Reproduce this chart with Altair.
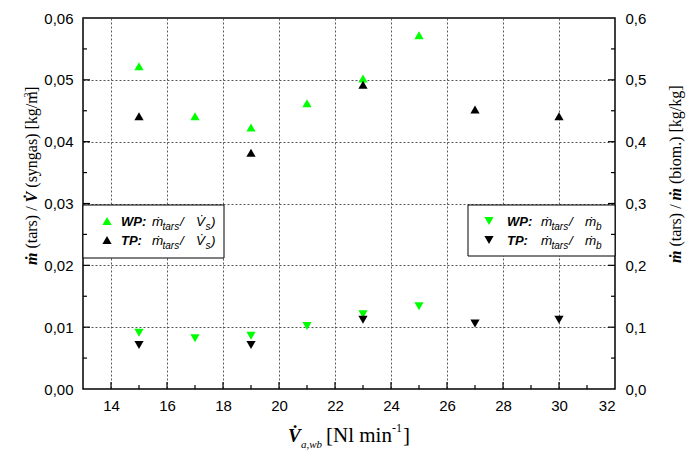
import altair as alt
import pandas as pd

# ---------------- data ----------------
x_wp_up = [15, 17, 19, 21, 23, 25]
y_wp_up = [0.0522, 0.0441, 0.0423, 0.0462, 0.0502, 0.0572]
x_tp_up = [15, 19, 23, 27, 30]
y_tp_up = [0.0441, 0.0382, 0.0492, 0.0452, 0.0441]

x_wp_dn = [15, 17, 19, 21, 23, 25]
y_wp_dn = [0.091, 0.082, 0.086, 0.102, 0.121, 0.134]
x_tp_dn = [15, 19, 23, 27, 30]
y_tp_dn = [0.071, 0.071, 0.112, 0.106, 0.112]

x_labels = [14, 16, 18, 20, 22, 24, 26, 28, 30, 32]
x_major = [14, 16, 18, 20, 22, 24, 26, 28, 30]
x_minor = [15, 17, 19, 21, 23, 25, 27, 29, 31]
yl_labels = [0.0, 0.01, 0.02, 0.03, 0.04, 0.05, 0.06]
yl_major = [0.01, 0.02, 0.03, 0.04, 0.05]
yl_minor = [0.005, 0.015, 0.025, 0.035, 0.045, 0.055]
yr_labels = [0.0, 0.1, 0.2, 0.3, 0.4, 0.5, 0.6]
yr_major = [0.1, 0.2, 0.3, 0.4, 0.5]
yr_minor = [0.05, 0.15, 0.25, 0.35, 0.45, 0.55]

GREEN = "#00FF00"
BLACK = "#000000"

# ---------------- layout ----------------
L, T = 83, 18
W, H = 532, 371
R = 686 - L - W
B = 453 - T - H

SANS = "Liberation Sans"
SERIF = "Liberation Serif"
NB = "\u00A0"

x_scale = alt.Scale(domain=[13, 32], nice=False, zero=False)
yl_scale = alt.Scale(domain=[0, 0.06], nice=False)
yr_scale = alt.Scale(domain=[0, 0.6], nice=False)

x_axis = alt.Axis(values=x_labels, title="", ticks=False, domain=False,
                  labelFont=SANS, labelFontSize=15, labelColor="black",
                  labelPadding=9, grid=True, gridColor="#444",
                  gridDash=[2, 2], gridWidth=0.9, format="d")
yl_axis = alt.Axis(values=yl_labels, title="", ticks=False, domain=False,
                   orient="left",
                   labelExpr="replace(format(datum.value, '.2f'), '.', ',')",
                   labelFont=SANS, labelFontSize=15, labelColor="black",
                   labelPadding=10, grid=True, gridColor="#444",
                   gridDash=[2, 2], gridWidth=0.9)
yr_axis = alt.Axis(values=yr_labels, title="", ticks=False, domain=False,
                   orient="right",
                   labelExpr="replace(format(datum.value, '.1f'), '.', ',')",
                   labelFont=SANS, labelFontSize=15, labelColor="black",
                   labelPadding=10, grid=False)

base = alt.Chart(pd.DataFrame({"d": [0]}))


def txt(s, ax, ay, size, font=SANS, style="normal", weight="normal",
        angle=0, align="left", baseline="alphabetic"):
    """Text placed at absolute page coordinates (converted to plot coords)."""
    return base.mark_text(text=s, font=font, fontSize=size, fontStyle=style,
                          fontWeight=weight, angle=angle, align=align,
                          baseline=baseline, color="black").encode(
        x=alt.value(ax - L), y=alt.value(ay - T))


def pts(xs, ys, shape, color, yscale, yaxis):
    df = pd.DataFrame({"x": xs, "y": ys})
    return alt.Chart(df).mark_point(shape=shape, filled=True, color=color,
                                    size=85, opacity=1, strokeWidth=0).encode(
        x=alt.X("x:Q", scale=x_scale, axis=x_axis),
        y=alt.Y("y:Q", scale=yscale, axis=yaxis))


def yticks(vals, length, yscale, yaxis, right=False):
    df = pd.DataFrame({"y": vals})
    x0 = W if right else 0
    x1 = W - length if right else length
    return alt.Chart(df).mark_rule(color="black", strokeWidth=1.2).encode(
        y=alt.Y("y:Q", scale=yscale, axis=yaxis),
        x=alt.value(x0), x2=alt.value(x1))


def xticks(vals, length):
    df = pd.DataFrame({"x": vals})
    return alt.Chart(df).mark_rule(color="black", strokeWidth=1.2).encode(
        x=alt.X("x:Q", scale=x_scale, axis=x_axis),
        y=alt.value(H), y2=alt.value(H - length))


def box(ax0, ax1, ay0, ay1):
    return base.mark_rect(fill="white", stroke="black", strokeWidth=1).encode(
        x=alt.value(ax0 - L), x2=alt.value(ax1 - L),
        y=alt.value(ay0 - T), y2=alt.value(ay1 - T))


def legmark(shape, color, ax, ay):
    return base.mark_point(shape=shape, filled=True, color=color, size=85,
                           opacity=1, strokeWidth=0).encode(
        x=alt.value(ax - L), y=alt.value(ay - T))


MDOT = "\u1E41"
VDOT = "V\u0307"

# ---------------- legends ----------------
r1, r2 = 226, 245
left_legend = [
    box(83, 224, 205, 258),
    legmark("triangle-up", GREEN, 107, 221),
    legmark("triangle-up", BLACK, 107, 240),
]
for row, lab in ((r1, "WP:"), (r2, "TP:")):
    left_legend += [
        txt(lab, 121, row, 13, style="italic", weight="bold"),
        txt(MDOT, 152, row, 13.5, style="italic"),
        txt("tars", 162.5, row + 3.5, 10, style="italic"),
        txt("/", 180, row, 13.5, style="italic"),
        txt(VDOT, 196, row, 13.5, style="italic"),
        txt("s", 205.5, row + 3.5, 10, style="italic"),
        txt(")", 211, row, 13.5, style="italic"),
    ]

right_legend = [
    box(468, 615, 205, 256),
    legmark("triangle-down", GREEN, 489, 221),
    legmark("triangle-down", BLACK, 489, 240),
]
for row, lab in ((r1, "WP:"), (r2, "TP:")):
    right_legend += [
        txt(lab, 507, row, 13, style="italic", weight="bold"),
        txt(MDOT, 541, row, 13.5, style="italic"),
        txt("tars", 551.5, row + 3.5, 10, style="italic"),
        txt("/", 569, row, 13.5, style="italic"),
        txt(MDOT, 585, row, 13.5, style="italic"),
        txt("b", 596, row + 3.5, 10, style="italic"),
    ]

# ---------------- axis titles ----------------
titles = [
    # left (rotated, reading upward)
    txt(MDOT, 37, 265, 16, font=SERIF, style="italic", weight="bold", angle=270),
    txt("(tars)" + NB + "/", 37, 248.6, 16, font=SERIF, angle=270),
    txt(VDOT, 37, 202.4, 16, font=SERIF, style="italic", weight="bold", angle=270),
    txt("(syngas)" + NB + "[kg/m", 37, 187.7, 16, font=SERIF, angle=270),
    txt("3", 31, 97.5, 10, font=SERIF, angle=270),
    txt("]", 37, 92, 16, font=SERIF, angle=270),
    # right (rotated, reading upward)
    txt(MDOT, 681, 263, 16, font=SERIF, style="italic", weight="bold", angle=270),
    txt("(tars)" + NB + "/", 681, 246.6, 16, font=SERIF, angle=270),
    txt(MDOT, 681, 200.4, 16, font=SERIF, style="italic", weight="bold", angle=270),
    txt("(biom.)" + NB + "[kg/kg]", 681, 184, 16, font=SERIF, angle=270),
    # bottom
    txt(VDOT, 288, 442, 19, font=SERIF, style="italic", weight="bold"),
    txt("a,wb", 301, 448, 11, font=SERIF, style="italic"),
    txt("[Nl" + NB + "min", 326, 442, 21, font=SERIF),
    txt("-1", 392, 432, 12, font=SERIF),
    txt("]", 403, 442, 21, font=SERIF),
]

# ---------------- groups ----------------
left_group = alt.layer(
    *left_legend,
    *right_legend,
    yticks(yl_major, 7, yl_scale, yl_axis),
    yticks(yl_minor, 4, yl_scale, yl_axis),
    xticks(x_major, 7),
    xticks(x_minor, 4),
    pts(x_wp_up, y_wp_up, "triangle-up", GREEN, yl_scale, yl_axis),
    pts(x_tp_up, y_tp_up, "triangle-up", BLACK, yl_scale, yl_axis),
    *titles,
)

right_group = alt.layer(
    yticks(yr_major, 7, yr_scale, yr_axis, right=True),
    yticks(yr_minor, 4, yr_scale, yr_axis, right=True),
    pts(x_wp_dn, y_wp_dn, "triangle-down", GREEN, yr_scale, yr_axis),
    pts(x_tp_dn, y_tp_dn, "triangle-down", BLACK, yr_scale, yr_axis),
)

chart = alt.layer(left_group, right_group).resolve_scale(
    y="independent"
).properties(
    width=W, height=H,
    autosize=alt.AutoSizeParams(type="none"),
    padding={"left": L, "top": T, "right": R, "bottom": B},
    background="white",
).configure_view(stroke="black", strokeWidth=1.5)

chart.save("out.html", embed_options={"renderer": "svg", "actions": False})
